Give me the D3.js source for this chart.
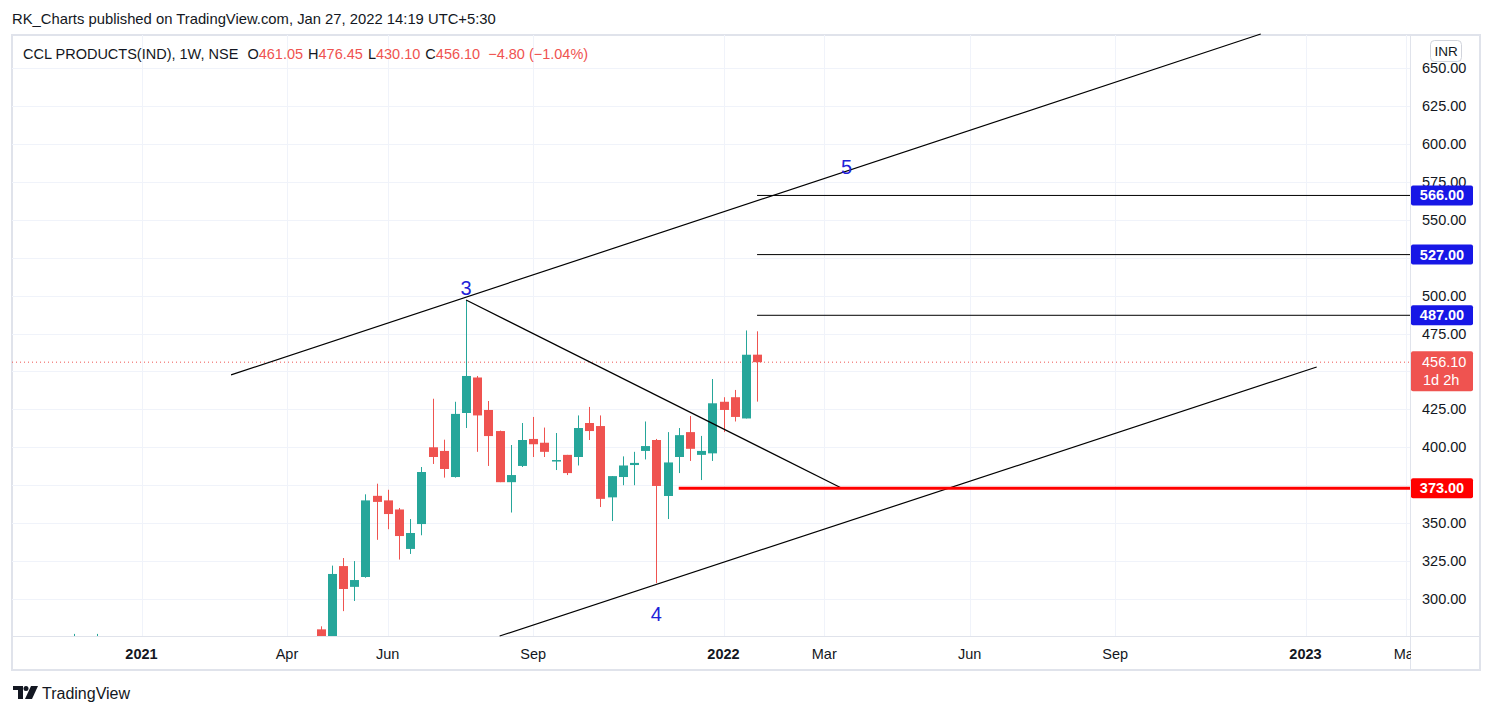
<!DOCTYPE html>
<html>
<head>
<meta charset="utf-8">
<script src="https://cdn.jsdelivr.net/npm/d3@7"></script>
<style>
  body { margin:0; background:#fff; }
  text { font-family: "Liberation Sans", "Open Sans", sans-serif; }
</style>
</head>
<body>
<div id="chart"></div>
<script>
// weekly candles: [weekStart, open, high, low, close]
var candles = [
  ["2020-11-23", 268, 277, 262, 272],
  ["2020-12-07", 270, 277, 264, 273],
  ["2021-04-26", 280, 282, 262, 270],
  ["2021-05-03", 275, 322, 270, 316.5],
  ["2021-05-10", 321.7, 327, 292, 306.6],
  ["2021-05-17", 308, 325, 298.7, 312.5],
  ["2021-05-24", 314.5, 369, 314, 365],
  ["2021-05-31", 368, 376, 339, 364],
  ["2021-06-07", 365, 372, 346, 356],
  ["2021-06-14", 359, 360, 326, 341.5],
  ["2021-06-21", 333, 352.7, 329.7, 343.5],
  ["2021-06-28", 349.4, 387, 342, 383.7],
  ["2021-07-05", 400, 432, 389, 393.6],
  ["2021-07-12", 397.6, 405, 380, 385.7],
  ["2021-07-19", 380.4, 430, 380, 422],
  ["2021-07-26", 422.6, 497, 412.7, 447],
  ["2021-08-02", 446, 447, 397, 421],
  ["2021-08-09", 424.6, 430.5, 387.7, 407.4],
  ["2021-08-16", 410.7, 411, 377, 377],
  ["2021-08-23", 377, 401.5, 357, 381.7],
  ["2021-08-30", 387.7, 416, 387, 404.8],
  ["2021-09-06", 405.5, 420, 393.6, 402],
  ["2021-09-13", 403, 413, 393.6, 397],
  ["2021-09-20", 391, 409.4, 385, 391.6],
  ["2021-09-27", 395, 395, 381.7, 383],
  ["2021-10-04", 393.6, 421, 388, 412.7],
  ["2021-10-11", 416, 426.6, 404.8, 410.7],
  ["2021-10-18", 414, 421, 360.6, 366],
  ["2021-10-25", 367, 381, 351.4, 381],
  ["2021-11-01", 380.4, 394, 375, 388],
  ["2021-11-08", 388.3, 397, 375, 389.7],
  ["2021-11-15", 397.6, 417, 392, 400.8],
  ["2021-11-22", 404.8, 405.5, 310.5, 374.5],
  ["2021-11-29", 367.9, 410, 352.7, 390],
  ["2021-12-06", 393.6, 412.7, 383, 408],
  ["2021-12-13", 410, 420.6, 391, 399],
  ["2021-12-20", 395, 407.5, 378.4, 397.6],
  ["2021-12-27", 396, 445, 391, 429],
  ["2022-01-03", 430, 433, 410, 424.6],
  ["2022-01-10", 433, 437.8, 417, 420],
  ["2022-01-17", 419, 477, 419, 461],
  ["2022-01-24", 461.05, 476.45, 430.10, 456.10]
];

var priceTicks = [300, 325, 350, 375, 400, 425, 450, 475, 500, 525, 550, 575, 600, 625, 650];
var timeTicks = [
  ["2021-01-04", "2021", true], ["2021-04-05", "Apr", false], ["2021-06-07", "Jun", false],
  ["2021-09-06", "Sep", false], ["2022-01-03", "2022", true], ["2022-03-07", "Mar", false],
  ["2022-06-06", "Jun", false], ["2022-09-05", "Sep", false], ["2023-01-02", "2023", true],
  ["2023-03-06", "Mar", false]
];

// drawings: [date1, price1, date2, price2]
var trendLines = [
  ["2021-03-01", 447.7, "2022-12-05", 672.4],
  ["2021-07-26", 497.1, "2022-03-18", 373],
  ["2021-08-16", 275.6, "2023-01-09", 452.9]
];
var targetLevels = [566, 527, 487];
var targetStart = "2022-01-24";
var supportLevel = 373, supportStart = "2021-12-06";
var lastPrice = 456.10;
var waveLabels = [["3", "2021-07-26", 505], ["4", "2021-11-22", 290], ["5", "2022-03-21", 585]];

var width = 1493, height = 715;
var pLeft = 12, pRight = 1410, pTop = 35, pBottom = 636, axisRight = 1480, axisBottom = 670;
var parse = d3.timeParse("%Y-%m-%d");

var x = d3.scaleTime().domain([parse("2021-01-04"), parse("2022-01-03")]).range([141.5, 723.5]);
var y = d3.scaleLinear().domain([300, 650]).range([599, 68]);
var yc = function (v) { return Math.min(pBottom, Math.max(pTop, y(v))); };

var svg = d3.select('#chart').append('svg').attr('width', width).attr('height', height);

svg.append('text').attr('x', 12).attr('y', 24).attr('font-size', 14.8).attr('fill', '#131722')
  .text('RK_Charts published on TradingView.com, Jan 27, 2022 14:19 UTC+5:30');

svg.append('rect').attr('x', pLeft).attr('y', pTop).attr('width', axisRight - pLeft).attr('height', axisBottom - pTop)
  .attr('fill', 'none').attr('stroke', '#e0e3eb').attr('stroke-width', 2);

// grid
var grid = svg.append('g');
grid.selectAll('.hg').data(priceTicks).enter().append('line')
  .attr('x1', pLeft).attr('x2', pRight).attr('y1', d => Math.round(y(d)) + 0.5).attr('y2', d => Math.round(y(d)) + 0.5)
  .attr('stroke', '#f0f3fa');
grid.selectAll('.vg').data(timeTicks).enter().append('line')
  .attr('x1', d => Math.round(x(parse(d[0]))) + 0.5).attr('x2', d => Math.round(x(parse(d[0]))) + 0.5)
  .attr('y1', pTop).attr('y2', pBottom).attr('stroke', '#f0f3fa');

// axes borders
svg.append('line').attr('x1', pRight + 0.5).attr('x2', pRight + 0.5).attr('y1', pTop).attr('y2', axisBottom).attr('stroke', '#e0e3eb');
svg.append('line').attr('x1', pLeft).attr('x2', axisRight).attr('y1', pBottom + 0.5).attr('y2', pBottom + 0.5).attr('stroke', '#e0e3eb');

var plot = svg.append('g');

// last price dotted line
plot.append('line').attr('x1', pLeft).attr('x2', pRight).attr('y1', y(lastPrice)).attr('y2', y(lastPrice))
  .attr('stroke', '#ef5350').attr('stroke-dasharray', '1,3');

// candles
var up = '#26a69a', down = '#ef5350';
var c = plot.selectAll('.candle').data(candles).enter().append('g');
c.append('line')
  .attr('x1', d => Math.round(x(parse(d[0]))) + 0.5).attr('x2', d => Math.round(x(parse(d[0]))) + 0.5)
  .attr('y1', d => yc(d[2])).attr('y2', d => yc(d[3]))
  .attr('stroke', d => d[4] >= d[1] ? up : down).attr('stroke-width', 1);
c.append('rect')
  .attr('x', d => Math.round(x(parse(d[0]))) - 4).attr('width', 9)
  .attr('y', d => yc(Math.max(d[1], d[4])))
  .attr('height', d => Math.max(1.5, Math.abs(yc(d[1]) - yc(d[4]))))
  .attr('fill', d => d[4] >= d[1] ? up : down)
  .attr('display', d => y(Math.max(d[1], d[4])) > pBottom ? 'none' : null);

// drawings
plot.selectAll('.trend').data(trendLines).enter().append('line')
  .attr('x1', d => x(parse(d[0]))).attr('y1', d => y(d[1]))
  .attr('x2', d => x(parse(d[2]))).attr('y2', d => y(d[3]))
  .attr('stroke', '#000').attr('stroke-width', 1.2);
plot.selectAll('.target').data(targetLevels).enter().append('line')
  .attr('x1', x(parse(targetStart))).attr('x2', pRight)
  .attr('y1', d => y(d)).attr('y2', d => y(d)).attr('stroke', '#000').attr('stroke-width', 1);
plot.append('line').attr('x1', x(parse(supportStart))).attr('x2', pRight)
  .attr('y1', y(supportLevel)).attr('y2', y(supportLevel)).attr('stroke', '#ff0000').attr('stroke-width', 3);

plot.selectAll('.wave').data(waveLabels).enter().append('text')
  .attr('x', d => x(parse(d[1]))).attr('y', d => y(d[2]) + 7)
  .attr('text-anchor', 'middle').attr('font-size', 20).attr('fill', '#1e22d8').text(d => d[0]);

// legend
var leg = svg.append('text').attr('x', 23).attr('y', 59).attr('font-size', 14.5).attr('fill', '#131722');
leg.append('tspan').text('CCL PRODUCTS(IND), 1W, NSE ');
[["O", "461.05"], ["H", "476.45"], ["L", "430.10"], ["C", "456.10"]].forEach(function (p) {
  leg.append('tspan').attr('dx', 5).text(p[0]);
  leg.append('tspan').attr('fill', down).text(p[1]);
});
leg.append('tspan').attr('dx', 8).attr('fill', down).text('\u22124.80 (\u22121.04%)');

// price axis (labels under tags are hidden, as on the chart)
var tagLevels = [566, 527, 487, 373];
var visibleTicks = priceTicks.filter(function (d) {
  var near = tagLevels.some(t => Math.abs(y(t) - y(d)) < 12);
  var underLast = y(d) > y(lastPrice) - 14 && y(d) < y(lastPrice) + 33;
  return !near && !underLast;
});
svg.selectAll('.pl').data(visibleTicks).enter().append('text')
  .attr('x', 1422).attr('y', d => y(d) + 5).attr('font-size', 14.5).attr('fill', '#131722')
  .text(d => d3.format('.2f')(d));

svg.append('rect').attr('x', 1430.5).attr('y', 40.5).attr('width', 31).attr('height', 21).attr('rx', 4)
  .attr('fill', '#fff').attr('stroke', '#d1d4dc');
svg.append('text').attr('x', 1446).attr('y', 56).attr('text-anchor', 'middle').attr('font-size', 13.5).attr('fill', '#131722').text('INR');

// price tags
var tags = targetLevels.map(d => [d, '#1717e6']).concat([[supportLevel, '#ff0000']]);
var tg = svg.selectAll('.tag').data(tags).enter().append('g');
tg.append('rect').attr('x', 1411).attr('y', d => y(d[0]) - 10).attr('width', 62).attr('height', 20).attr('rx', 2).attr('fill', d => d[1]);
tg.append('text').attr('x', 1442).attr('y', d => y(d[0]) + 5).attr('text-anchor', 'middle')
  .attr('font-size', 14.5).attr('font-weight', 'bold').attr('fill', '#fff').text(d => d3.format('.2f')(d[0]));
svg.append('rect').attr('x', 1411).attr('y', y(lastPrice) - 11).attr('width', 62).attr('height', 40).attr('rx', 2).attr('fill', down);
svg.append('text').attr('x', 1422).attr('y', y(lastPrice) + 5).attr('font-size', 14.5).attr('fill', '#fff').text(d3.format('.2f')(lastPrice));
svg.append('text').attr('x', 1423).attr('y', y(lastPrice) + 23).attr('font-size', 14.5).attr('fill', '#fff').text('1d 2h');

// time axis
svg.selectAll('.tl').data(timeTicks).enter().append('text')
  .attr('x', d => x(parse(d[0]))).attr('y', 659).attr('text-anchor', 'middle')
  .attr('font-size', 14.5).attr('font-weight', d => d[2] ? 'bold' : 'normal').attr('fill', '#131722')
  .text(d => d[1]);
svg.append('rect').attr('x', pRight + 1).attr('y', pBottom + 1).attr('width', axisRight - pRight - 2).attr('height', axisBottom - pBottom - 2).attr('fill', '#fff');

// footer logo
var logo = svg.append('g').attr('transform', 'translate(13,686)');
logo.append('path').attr('d', 'M0 0 H10 V13 H5 V4 H0 Z').attr('fill', '#131722');
logo.append('circle').attr('cx', 13).attr('cy', 2.5).attr('r', 2.5).attr('fill', '#131722');
logo.append('path').attr('d', 'M18 0 H25 L19 13 H12 Z').attr('fill', '#131722');
svg.append('text').attr('x', 42).attr('y', 699).attr('font-size', 16).attr('fill', '#131722').text('TradingView');
</script>
</body>
</html>
